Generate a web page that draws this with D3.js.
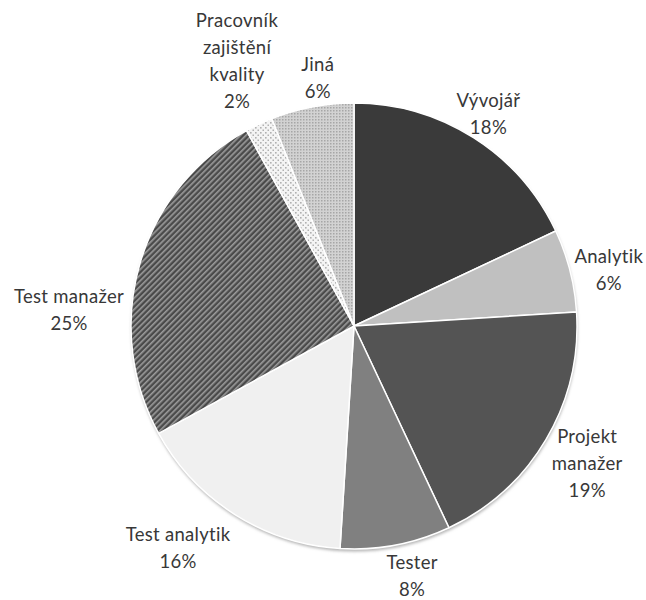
<!DOCTYPE html>
<html>
<head>
<meta charset="utf-8">
<script src="https://cdn.jsdelivr.net/npm/d3@7"></script>
<style>
  body { margin: 0; background: #fff; }
  text { font-family: Lato, "Open Sans", sans-serif; font-size: 18.5px; letter-spacing: 0.3px; fill: #383838; }
</style>
</head>
<body>
<div id="chart"></div>
<script>
// data, clockwise from 12 o'clock
const roles = ["Vývojář", "Analytik", "Projekt manažer", "Tester", "Test analytik", "Test manažer", "Pracovník zajištění kvality", "Jiná"];
const shares = [18, 6, 19, 8, 16, 25, 2, 6];
// label lines as wrapped in the original
const labelLines = [["Vývojář"], ["Analytik"], ["Projekt", "manažer"], ["Tester"], ["Test analytik"], ["Test manažer"], ["Pracovník", "zajištění", "kvality"], ["Jiná"]];

const width = 646, height = 600;
const cx = 354, cy = 326, radius = 223;

const svg = d3.select("#chart")
    .append("svg")
    .attr("width", width)
    .attr("height", height);

const defs = svg.append("defs");

// diagonal stripes (Test manažer)
const stripes = defs.append("pattern")
    .attr("id", "stripes")
    .attr("patternUnits", "userSpaceOnUse")
    .attr("width", 4).attr("height", 4)
    .attr("patternTransform", "rotate(45)");
stripes.append("rect").attr("width", 4).attr("height", 4).attr("fill", "#4a4a4a");
stripes.append("rect").attr("width", 1.6).attr("height", 4).attr("fill", "#9c9c9c");

// sparse dots (Pracovník)
const dots = defs.append("pattern")
    .attr("id", "dots")
    .attr("patternUnits", "userSpaceOnUse")
    .attr("width", 5).attr("height", 5);
dots.append("rect").attr("width", 5).attr("height", 5).attr("fill", "#f4f4f4");
dots.append("rect").attr("x", 1).attr("y", 1).attr("width", 1.6).attr("height", 1.6).attr("fill", "#b0b0b0");
dots.append("rect").attr("x", 3.5).attr("y", 3.5).attr("width", 1.6).attr("height", 1.6).attr("fill", "#b0b0b0");

// fine dots (Jiná)
const fine = defs.append("pattern")
    .attr("id", "fine")
    .attr("patternUnits", "userSpaceOnUse")
    .attr("width", 3).attr("height", 3);
fine.append("rect").attr("width", 3).attr("height", 3).attr("fill", "#d2d2d2");
fine.append("rect").attr("width", 1.5).attr("height", 1.5).attr("fill", "#a6a6a6");

const fills = ["#3a3a3a", "#c0c0c0", "#545454", "#808080", "#f0f0f0", "url(#stripes)", "url(#dots)", "url(#fine)"];

const shadow = defs.append("filter").attr("id", "shadow")
    .attr("x", "-10%").attr("y", "-10%").attr("width", "120%").attr("height", "120%");
shadow.append("feGaussianBlur").attr("stdDeviation", 1.5);

const pie = d3.pie().sort(null).value(d => d);
const arcs = pie(shares);

const arc = d3.arc().innerRadius(0).outerRadius(radius);

const g = svg.append("g").attr("transform", `translate(${cx},${cy})`);

// soft shadow under the pie
g.append("circle")
    .attr("cx", 0.5).attr("cy", 2.5)
    .attr("r", radius)
    .attr("fill", "#b4b4b4")
    .attr("filter", "url(#shadow)");

g.selectAll("path.slice")
    .data(arcs)
    .enter().append("path")
    .attr("class", "slice")
    .attr("d", arc)
    .attr("fill", (d, i) => fills[i])
    .attr("stroke", "#fff")
    .attr("stroke-width", 1.5)
    .attr("stroke-linejoin", "round");

// label placement: radius factor and angle nudge (degrees) per slice
const labelRadius = [1.125, 1.17, 1.215, 1.15, 1.27, 1.28, 1.30, 1.125];
const labelNudge = [0, 2, 0, -2.3, 6, -13, 1.4, 2.5];
const lineH = 27;

const labels = svg.append("g");
arcs.forEach((d, i) => {
    const a = (d.startAngle + d.endAngle) / 2 + labelNudge[i] * Math.PI / 180;
    const r = radius * labelRadius[i];
    const lx = cx + r * Math.sin(a);
    const ly = cy - r * Math.cos(a);
    const lines = labelLines[i].concat([shares[i] + "%"]);
    const top = ly - (lines.length - 1) * lineH / 2;
    const t = labels.append("text")
        .attr("text-anchor", "middle")
        .attr("x", lx)
        .attr("y", top);
    lines.forEach((s, k) => {
        t.append("tspan")
            .attr("x", lx)
            .attr("y", top + k * lineH)
            .attr("dy", "0.35em")
            .text(s);
    });
});
</script>
</body>
</html>
